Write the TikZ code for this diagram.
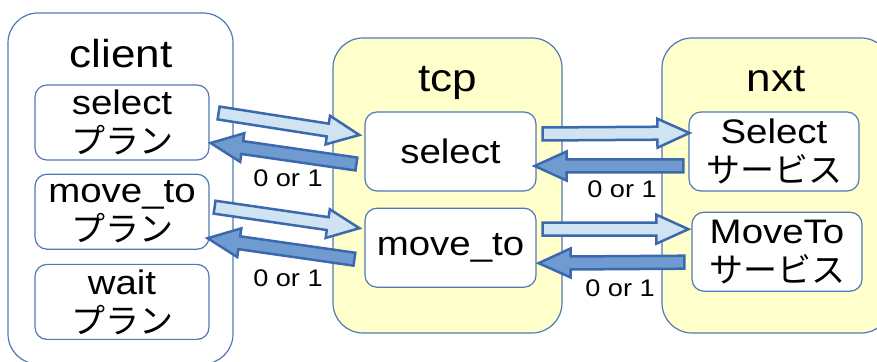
\documentclass[tikz,border=0pt]{standalone}
\usepackage{fontspec}
\setmainfont{Liberation Sans}[FakeStretch=1.13]
\newfontfamily\jp{Noto Sans CJK JP}[Scale=1.0]
\usetikzlibrary{positioning,calc}

\definecolor{boxline}{HTML}{5079B6}
\definecolor{boxfill}{HTML}{FFFFCC}
\definecolor{arrowline}{HTML}{3C68AE}
\definecolor{arrowlight}{HTML}{CFE3F3}
\definecolor{arrowdark}{HTML}{6F9BD0}

% fat block arrow: #1 style, #2 tail, #3 tip
\newcommand\fatarrow[3]{%
  \path (#2) coordinate (fa-s) (#3) coordinate (fa-e);
  \coordinate (fa-n) at ($(fa-e)!32pt!(fa-s)$);
  \draw[#1] ($(fa-s)!6.5pt!90:(fa-e)$) -- ($(fa-n)!6.5pt!90:(fa-e)$)
    -- ($(fa-n)!14.5pt!90:(fa-e)$) -- (fa-e)
    -- ($(fa-n)!14.5pt!-90:(fa-e)$) -- ($(fa-n)!6.5pt!-90:(fa-e)$)
    -- ($(fa-s)!6.5pt!-90:(fa-e)$) -- cycle;
}

\begin{document}
\begin{tikzpicture}[
            x=1pt,y=1pt,
            group box/.style={draw=boxline,line width=1.2pt,rounded corners=30pt},
            plan/.style={draw=boxline,fill=white,line width=1.2pt,rounded corners=12pt,
              inner sep=0pt,align=center,font=\fontsize{34}{39}\selectfont},
            main title/.style={anchor=base,font=\fontsize{39}{44}\selectfont},
            count text/.style={font=\fontsize{24}{28}\selectfont},
            fwd arrow/.style={draw=arrowline,fill=arrowlight,line width=2.5pt},
            ret arrow/.style={draw=arrowline,fill=arrowdark,line width=2.5pt}]
        \useasboundingbox (0,0) rectangle (877,361);
        \clip (0,0) rectangle (877,361);

        % Define groups
        \node[group box,fill=white,minimum width=225pt,minimum height=351pt] (client) at (120.5,172.5) {};
        \node[group box,fill=boxfill,minimum width=229pt,minimum height=295pt] (tcp) at (447.5,175.5) {};
        \node[group box,fill=boxfill,minimum width=229pt,minimum height=295pt] (nxt) at (776.5,175.5) {};
        \node[main title] (client-t) at (121,293) {client};
        \node[main title] (tcp-t) at (447.5,269) {tcp};
        \node[main title] (nxt-t) at (776,269) {nxt};

        % Define plans and services
        \node[plan,minimum width=174pt,minimum height=75pt] (c1) at (122,238.5) {select\\{\jp プラン}};
        \node[plan,minimum width=174pt,minimum height=75pt] (c2) [below=13pt of c1] {move\_to\\{\jp プラン}};
        \node[plan,minimum width=174pt,minimum height=75pt] (c3) [below=14pt of c2] {wait\\{\jp プラン}};
        \node[plan,minimum width=171pt,minimum height=79pt] (t1) at (450.5,209.5) {select};
        \node[plan,minimum width=171pt,minimum height=79pt] (t2) [below=16pt of t1] {move\_to};
        \node[plan,minimum width=170pt,minimum height=79pt] (n1) at (774,209.5) {Select\\{\jp サービス}};
        \node[plan,minimum width=170pt,minimum height=79pt] (n2) [below=20pt of n1,xshift=3pt] {MoveTo\\{\jp サービス}};

        % Draw arrows
        \fatarrow{fwd arrow}{[shift={(9,9.5)}]c1.east}{[shift={(-5,16.5)}]t1.west}
        \fatarrow{ret arrow}{[shift={(-8,-12.5)}]t1.west}{[shift={(1,-20.5)}]c1.east}
        \fatarrow{fwd arrow}{[shift={(5,4.5)}]c2.east}{[shift={(-5,19.5)}]t2.west}
        \fatarrow{ret arrow}{[shift={(-10,-11.5)}]t2.west}{[shift={(-2,-26.5)}]c2.east}
        \fatarrow{fwd arrow}{[shift={(6,17.5)}]t1.east}{[shift={(1,18.5)}]n1.west}
        \fatarrow{ret arrow}{[shift={(-5,-14.5)}]n1.west}{[shift={(-2,-14.5)}]t1.east}
        \fatarrow{fwd arrow}{[shift={(6,18.5)}]t2.east}{[shift={(-3,22.5)}]n2.west}
        \fatarrow{ret arrow}{[shift={(-7,-10.5)}]n2.west}{[shift={(2,-15.5)}]t2.east}

        \node[count text] (k1) at (288,183) {0 or 1};
        \node[count text] (k2) at (288,83) {0 or 1};
        \node[count text] (k3) at (622,172) {0 or 1};
        \node[count text] (k4) at (620,73) {0 or 1};
\end{tikzpicture}
\end{document}
